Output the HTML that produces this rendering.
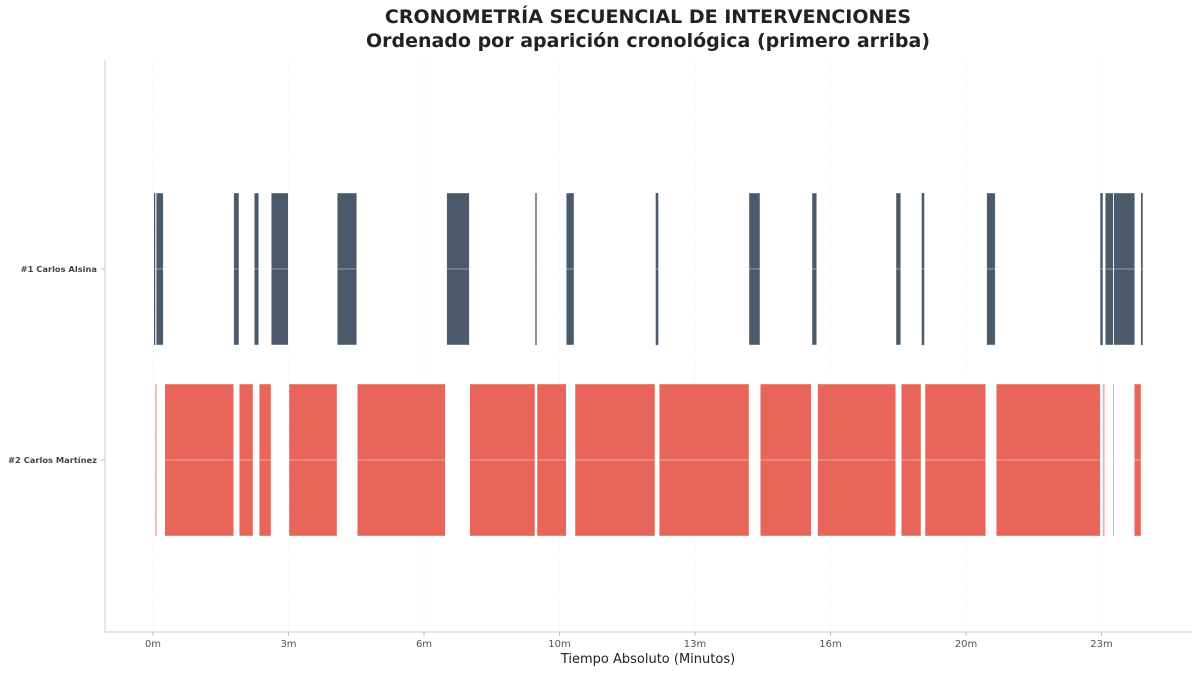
<!DOCTYPE html>
<html><head><meta charset="utf-8"><style>
body{margin:0;background:#fff;font-family:"Liberation Sans","DejaVu Sans",sans-serif}
svg text{font-family:"DejaVu Sans","Liberation Sans",sans-serif}
</style></head><body>
<svg id="c" width="1200" height="672" viewBox="0 0 1200 672">
<text x="648" y="23" text-anchor="middle" font-size="19" font-weight="bold" fill="#222">CRONOMETRÍA SECUENCIAL DE INTERVENCIONES</text>
<text x="648" y="47" text-anchor="middle" font-size="19" font-weight="bold" fill="#222">Ordenado por aparición cronológica (primero arriba)</text>
<g id="grid"></g><g id="bars"></g><g id="hgrid"></g>
<line x1="105" y1="60" x2="105" y2="632" stroke="#ccc"/>
<line x1="105" y1="632" x2="1192" y2="632" stroke="#ccc"/>
<g id="axes"></g>
<text x="648" y="663" text-anchor="middle" font-size="13" fill="#222">Tiempo Absoluto (Minutos)</text>
</svg>
<script>
const speakers=["#1 Carlos Alsina","#2 Carlos Martínez"];
const colors=["#4a5a6a","#e8655a"];
const alsinaSegs=[[1.5,3.4],[4.9,15.2],[119.1,126.9],[149.5,156],[174.6,199.7],[272,300.7],[433.5,466.9],[564.3,566.3],[610,621.4],[742,745.8],[879.7,895.9],[972.7,979.6],[1096.7,1103.6],[1134.6,1138.4],[1230.5,1243.2],[1398.2,1401.8],[1405.6,1417.4],[1418,1449],[1458.3,1460.8]];
const martinezSegs=[[3,5.5],[17.3,119.1],[127.4,147.6],[156.9,174.2],[200.7,271.6],[301.5,431.4],[467.4,563.8],[566.8,610],[622.9,740.9],[747.3,879.7],[896.4,971.6],[981,1096.2],[1104.5,1133.6],[1139.5,1229.1],[1244.7,1398.2],[1401.8,1404.7],[1417,1418],[1448.4,1458.3]];
const tickSecs=[0,200,400,600,800,1000,1200,1400];
const tickLabels=["0m","3m","6m","10m","13m","16m","20m","23m"];
const NS="http://www.w3.org/2000/svg";
const x=s=>153+s*0.6775;
const rowC=[269,460], rowH=152;
function mk(t,a,p){const e=document.createElementNS(NS,t);for(const k in a)e.setAttribute(k,a[k]);document.getElementById(p).appendChild(e);return e;}
tickSecs.forEach((s,i)=>{
 const g=mk('line',{x1:x(s),x2:x(s),y1:60,y2:632,stroke:'#f2f2f2','stroke-dasharray':'2,3'},'grid');
 
 
 const t=mk('line',{x1:x(s),x2:x(s),y1:632,y2:636,stroke:'#bbb'},'axes');
 
 
 const l=mk('text',{x:x(s),y:647,'text-anchor':'middle','font-size':'10',fill:'#555'},'axes');
 l.textContent=tickLabels[i];
 
 
});
[alsinaSegs,martinezSegs].forEach((segs,r)=>{
 segs.forEach(([a,b])=>{
  const w=x(b)-x(a);
  const thin=w<3;
  const e=mk('rect',{x:x(a),y:rowC[r]-rowH/2,width:Math.max(w,1),height:rowH,fill:colors[r],stroke:thin?'none':'#fff','stroke-width':0.4,opacity:thin&&r==1?0.5:1},'bars');
  
  
 });
 const h=mk('line',{x1:105,x2:1192,y1:rowC[r],y2:rowC[r],stroke:'#fff','stroke-opacity':0.4},'hgrid');
 
 
 const tk=mk('line',{x1:101,x2:105,y1:rowC[r],y2:rowC[r],stroke:'#bbb'},'axes');
 
 
 const l=mk('text',{x:97,y:rowC[r]+3,'text-anchor':'end','font-size':'8.3','font-weight':'bold',fill:'#444'},'axes');
 l.textContent=speakers[r];
 
 
});
</script>
</body></html>
